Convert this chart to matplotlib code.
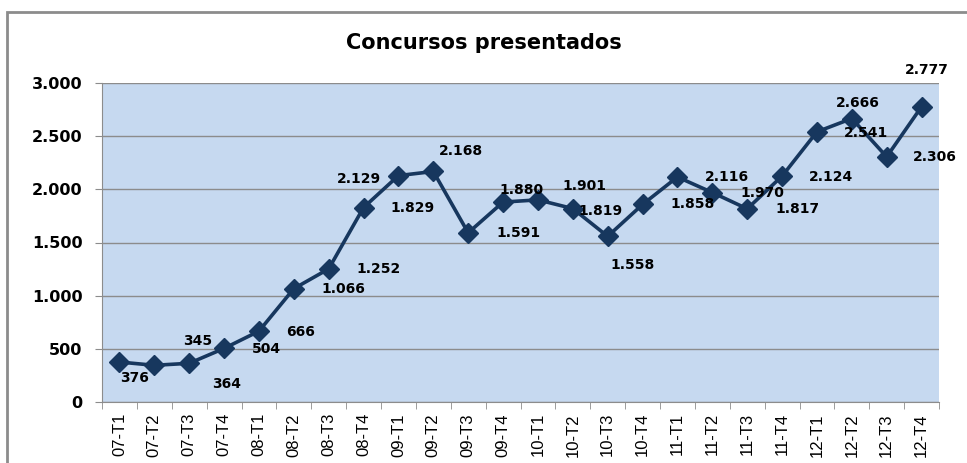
import matplotlib.pyplot as plt
from matplotlib.ticker import FuncFormatter
from matplotlib.patches import Rectangle

trimestres = ['07-T1', '07-T2', '07-T3', '07-T4', '08-T1', '08-T2', '08-T3', '08-T4',
              '09-T1', '09-T2', '09-T3', '09-T4', '10-T1', '10-T2', '10-T3', '10-T4',
              '11-T1', '11-T2', '11-T3', '11-T4', '12-T1', '12-T2', '12-T3', '12-T4']
concursos = [376, 345, 364, 504, 666, 1066, 1252, 1829, 2129, 2168, 1591, 1880,
             1901, 1819, 1558, 1858, 2116, 1970, 1817, 2124, 2541, 2666, 2306, 2777]

# desplazamiento de cada etiqueta (pixeles), como en el original
offsets = [(15, -16), (43, 24), (37, -21), (42, -1), (42, -1), (50, 0), (50, 0), (49, 0),
           (-40, -3), (28, 20), (50, 0), (18, 12), (47, 14), (28, -2), (25, -29), (50, 0),
           (49, 0), (50, 0), (50, 0), (49, -1), (49, -1), (6, 16), (48, 0), (5, 37)]


def miles(v, pos):
    return '{:,.0f}'.format(v).replace(',', '.')


fig = plt.figure(figsize=(9.67, 4.63), dpi=100)
fig.patches.append(Rectangle((7 / 967, -0.1), 1.2, 1 - 12 / 463 + 0.1, transform=fig.transFigure,
                             fill=False, edgecolor='#8c8c8c', linewidth=2))

ax = fig.add_axes([102 / 967, 61 / 463, 837 / 967, 319 / 463])
ax.set_facecolor('#C6D9F0')

x = list(range(len(trimestres)))
ax.plot(x, concursos, color='#17375E', linewidth=2.6, marker='D', markersize=10.5, zorder=3)

for i, v in enumerate(concursos):
    ax.annotate(miles(v, None), (i, v), xytext=offsets[i], textcoords='offset pixels',
                ha='center', va='center', fontsize=10, fontweight='bold', color='black',
                annotation_clip=False, zorder=4)

ax.set_xlim(-0.5, len(trimestres) - 0.5)
ax.set_ylim(0, 3000)
ax.set_yticks(range(0, 3001, 500))
ax.yaxis.set_major_formatter(FuncFormatter(miles))
ax.grid(axis='y', color='#8c8c8c', linewidth=1)
ax.set_axisbelow(True)

ax.set_xticks(x)
ax.set_xticklabels(trimestres, rotation=90, fontsize=12, family='Liberation Sans')
ax.set_xticks([i - 0.5 for i in range(len(trimestres) + 1)], minor=True)
ax.tick_params(axis='x', which='major', length=0, pad=8)
ax.tick_params(axis='x', which='minor', length=5, color='#8c8c8c', direction='out')
ax.tick_params(axis='y', length=5, color='#8c8c8c', pad=9, labelsize=11.5)
for lab in ax.get_yticklabels():
    lab.set_fontweight('bold')

for s in ['top', 'right']:
    ax.spines[s].set_visible(False)
ax.spines['left'].set_color('#8c8c8c')
ax.spines['bottom'].set_color('#8c8c8c')

fig.text(0.5, 1 - 43 / 463, 'Concursos presentados', ha='center', va='center',
         fontsize=15, fontweight='bold')

fig.savefig('out.png', dpi=100)
